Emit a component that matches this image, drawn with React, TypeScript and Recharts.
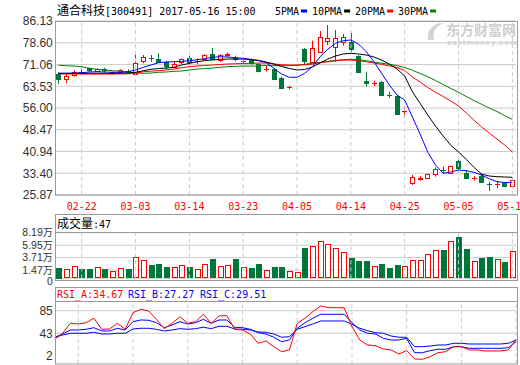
import { ComposedChart, Bar, Line, XAxis, YAxis, CartesianGrid, ReferenceLine } from 'recharts'

const dates = [
  '02-17', '02-20', '02-21', '02-22', '02-23', '02-24', '02-27', '02-28', '03-01', '03-02',
  '03-03', '03-06', '03-07', '03-08', '03-09', '03-10', '03-13', '03-14', '03-15', '03-16',
  '03-17', '03-20', '03-21', '03-22', '03-23', '03-24', '03-27', '03-28', '03-29', '03-30',
  '03-31', '04-05', '04-06', '04-07', '04-10', '04-11', '04-12', '04-13', '04-14', '04-17',
  '04-18', '04-19', '04-20', '04-21', '04-24', '04-25', '04-26', '04-27', '04-28', '05-02',
  '05-03', '05-04', '05-05', '05-08', '05-09', '05-10', '05-11', '05-12', '05-15', '05-16',
]

const open = [
  67.77, 65.94, 67.43, 68.6, 69.75, 68.92, 69.4, 68.0, 68.42, 68.7,
  67.94, 72.17, 73.3, 72.97, 71.93, 70.3, 71.82, 73.42, 72.3, 72.86,
  74.59, 72.62, 74.5, 73.4, 72.3, 72.86, 71.13, 69.4, 69.4, 66.28,
  63.2, null, 76.43, 72.03, 75.5, 79.3, 77.23, 78.75, 78.75, 74.0,
  65.35, 64.5, 65.1, 60.5, 60.15, 54.9, 30.13, 31.5, 31.65, 33.14,
  34.6, 33.59, 37.64, 33.38, 31.6, 32.45, 29.7, 29.6, 29.92, 28.99,
]
const high = [
  68.37, 68.0, 68.98, 69.4, 69.95, 69.8, 69.9, 68.6, 69.4, 69.4,
  74.94, 74.35, 74.35, 74.94, 72.4, 72.27, 73.2, 74.1, 73.2, 74.6,
  76.78, 74.6, 75.2, 74.1, 72.9, 73.1, 71.5, 70.54, 69.6, 66.84,
  63.72, null, 76.78, 79.3, 82.66, 84.74, 83.0, 81.63, 82.07, 74.3,
  68.57, 65.45, 65.3, 61.64, 60.3, 56.52, 32.8, 32.45, 33.2, 35.46,
  35.67, 36.0, 39.13, 34.53, 32.4, 33.38, 30.48, 30.82, 30.3, 31.65,
]
const low = [
  64.4, 64.55, 66.91, 67.88, 68.46, 68.5, 68.3, 67.7, 67.9, 67.9,
  67.43, 71.47, 72.03, 71.82, 69.4, 69.85, 71.23, 71.13, 71.1, 72.6,
  72.62, 71.93, 73.66, 72.2, 71.6, 71.0, 68.37, 68.63, 65.9, 62.82,
  62.47, null, 71.13, 71.47, 75.15, 77.82, 72.03, 77.57, 75.5, 68.22,
  63.37, 63.6, 60.15, 59.56, 53.8, 52.54, 29.33, 30.82, 31.5, 32.21,
  33.14, 33.5, 34.28, 31.41, 30.8, 30.13, 27.36, 28.19, 28.6, 28.19,
]
const close = [
  65.93, 67.08, 68.46, 68.55, 69.05, 69.62, 69.0, 68.3, 69.16, 68.5,
  71.75, 73.56, 73.2, 72.03, 70.54, 71.23, 72.97, 72.03, 72.4, 74.35,
  72.97, 74.25, 74.6, 73.1, 72.4, 71.47, 68.92, 69.6, 66.04, 63.03,
  63.3, null, 72.27, 76.67, 80.48, 80.13, 80.13, 80.48, 76.33, 68.57,
  64.55, 64.6, 60.5, 60.4, 53.92, 55.1, 32.0, 31.7, 33.04, 34.77,
  34.4, 35.91, 35.12, 31.65, 31.8, 30.48, 29.6, 29.8, 28.99, 31.06,
]

const ma5 = [
  68.02, 68.02, 68.12, 68.22, 68.47, 68.57, 68.47, 68.36, 68.36, 68.57,
  69.16, 70.09, 70.89, 71.69, 71.93, 72.03, 72.17, 72.38, 72.73, 73.07,
  73.56, 73.76, 73.66, 73.42, 73.21, 72.86, 72.38, 71.69, 69.75, 67.77,
  66.63, 66.63, 68.02, 70.3, 73.76, 76.33, 78.41, 79.31, 79.55, 78.16,
  75.5, 72.03, 68.02, 63.96, 60.5, 58.77, 52.88, 47.0, 40.76, 36.26,
  33.39, 33.84, 34.53, 34.29, 33.73, 32.8, 31.48, 30.48, 30.2, 30.2,
]
const ma10 = [
  68.0, 68.0, 67.98, 68.0, 68.05, 68.05, 68.02, 68.0, 68.05, 68.12,
  68.36, 68.9, 69.4, 69.65, 69.85, 70.09, 70.9, 71.45, 72.0, 72.4,
  72.65, 72.86, 72.97, 72.97, 72.97, 72.73, 72.52, 71.93, 71.24, 70.37,
  69.68, 69.16, 69.33, 70.2, 71.58, 72.97, 74.01, 74.7, 74.94, 74.7,
  74.35, 73.66, 72.62, 71.24, 69.51, 67.08, 61.64, 57.63, 53.58, 49.77,
  46.3, 43.08, 40.76, 38.23, 35.46, 33.14, 32.45, 32.21, 32.1, 32.0,
]
const ma20 = [
  67.8, 67.78, 67.77, 67.77, 67.75, 67.75, 67.77, 67.77, 67.8, 67.85,
  68.02, 68.57, 68.75, 68.92, 69.2, 69.5, 69.96, 70.3, 70.54, 70.72,
  70.89, 71.06, 71.24, 71.34, 71.41, 71.48, 71.58, 71.58, 71.24, 70.99,
  70.89, 70.89, 70.95, 71.2, 71.69, 72.0, 72.35, 72.55, 72.62, 72.4,
  72.0, 71.6, 71.1, 70.6, 70.0, 68.99, 66.73, 65.0, 63.1, 61.54,
  59.98, 58.42, 56.69, 54.27, 51.84, 49.42, 47.34, 45.26, 43.19, 40.76,
]
const ma30 = [
  70.79, 70.65, 70.54, 70.3, 69.75, 69.4, 69.16, 68.92, 68.71, 68.47,
  68.12, 68.02, 68.12, 68.36, 68.47, 68.71, 68.81, 69.16, 69.51, 69.61,
  69.85, 70.09, 70.3, 70.44, 70.54, 70.54, 70.54, 70.79, 70.65, 70.65,
  70.65, 70.79, 71.13, 71.48, 71.83, 72.17, 72.52, 72.73, 72.86, 72.73,
  72.38, 71.93, 71.48, 71.13, 70.65, 70.02, 69.06, 67.98, 66.84, 65.52,
  64.14, 62.75, 61.47, 59.98, 58.6, 57.28, 56.0, 54.79, 53.4, 52.02,
]

// 成交量, 万
const volume = [
  1.91, 1.62, 2.22, 1.68, 1.68, 1.98, 1.68, 1.32, 1.8, 1.68,
  3.78, 3.3, 2.4, 2.58, 2.04, 2.04, 2.34, 2.04, 1.68, 2.58,
  3.48, 2.22, 2.34, 3.48, 1.98, 1.86, 2.58, 1.5, 2.04, 2.04,
  1.32, 1.14, 5.46, 5.82, 6.72, 6.18, 5.41, 4.74, 3.66, 3.12,
  3.12, 2.16, 2.58, 1.86, 2.4, 2.16, 3.24, 3.24, 4.32, 5.05,
  5.1, 6.72, 7.44, 5.28, 3.12, 3.66, 3.84, 3.42, 2.94, 4.92,
]

const rsiA = [
  31.85, 43.0, 61.6, 60.3, 62.7, 70.9, 50.4, 51.0, 61.6, 50.4,
  81.3, 87.6, 84.5, 69.0, 51.6, 61.6, 73.9, 61.6, 64.6, 78.3,
  61.6, 75.2, 75.7, 50.4, 49.1, 41.7, 24.4, 28.7, 18.1, 8.8,
  12.0, 61.6, 70.9, 83.2, 93.8, 90.6, 90.6, 90.6, 55.3, 30.5,
  21.2, 19.9, 13.8, 12.0, 4.5, 10.7, -4.8, -5.3, -0.5, 6.9,
  8.8, 18.1, 18.1, 12.0, 12.0, 10.1, 10.1, 10.1, 12.0, 31.85,
]
const rsiB = [
  35.6, 41.7, 49.1, 49.1, 50.4, 53.4, 47.3, 47.3, 52.3, 49.1,
  64.6, 67.7, 67.2, 62.7, 53.4, 58.4, 64.6, 60.3, 62.7, 69.0,
  61.6, 67.7, 67.7, 54.2, 53.4, 50.4, 44.1, 41.7, 35.6, 27.4,
  30.5, 52.3, 62.7, 70.9, 78.3, 78.3, 78.3, 78.3, 62.7, 49.1,
  43.0, 41.7, 33.7, 30.5, 30.5, 33.7, 6.9, 6.9, 10.7, 13.3,
  13.3, 18.1, 18.1, 15.1, 15.1, 15.1, 15.1, 15.1, 16.2, 27.4,
]
const rsiC = [
  35.6, 39.8, 43.0, 43.0, 43.0, 44.9, 41.7, 41.7, 43.0, 43.0,
  51.0, 52.3, 52.3, 50.4, 47.3, 49.1, 51.6, 50.4, 51.6, 54.2,
  51.6, 56.0, 56.0, 51.0, 50.4, 49.1, 45.4, 44.9, 41.7, 35.6,
  36.7, 50.4, 55.3, 60.3, 65.9, 65.9, 65.9, 65.9, 59.7, 52.3,
  47.8, 44.1, 43.0, 38.0, 35.6, 35.6, 18.1, 18.1, 19.4, 21.2,
  21.2, 24.4, 24.4, 23.1, 23.1, 23.1, 23.1, 23.1, 24.4, 30.5,
]

const dateTicks = ['02-22', '03-03', '03-14', '03-23', '04-05', '04-14', '04-25', '05-05', '05-16']
const priceTicks = [25.87, 33.4, 40.94, 48.47, 56.0, 63.53, 71.06, 78.6, 86.13]
const volTicks = [0, 1.47, 3.71, 5.95, 8.19]
const rsiTicks = [2, 43, 85]

const RED = '#ff0000'
const GREEN = '#00773a'
const BLUE = '#0000ff'
const GRID = '#cccccc'
const FRAME = '#9a9a9a'
const TEXT = '#333333'
const SANS = "'Liberation Sans', Arial, sans-serif"
const MONO = "'DejaVu Sans Mono', monospace"
const CJK = "'Noto Sans CJK SC', sans-serif"

const W = 520
const AXIS_W = 54.8
const RIGHT = 3.8

const rows = dates.map((d, i) => {
  const has = open[i] != null
  return {
    d,
    open: open[i],
    high: high[i],
    low: low[i],
    close: close[i],
    range: has ? [low[i], high[i]] : null,
    up: !has || (close[i] as number) >= (open[i] as number),
    ma5: ma5[i],
    ma10: ma10[i],
    ma20: ma20[i],
    ma30: ma30[i],
    vol: volume[i],
    rsiA: rsiA[i],
    rsiB: rsiB[i],
    rsiC: rsiC[i],
  }
})

function Candle(p: any) {
  const { x, y, width, height, payload } = p
  if (!payload || payload.open == null) return null
  const { open: o, close: c, high: h, low: l } = payload
  const k = height / (h - l || 1)
  const at = (v: number) => y + (h - v) * k
  const up = c >= o
  const color = up ? RED : GREEN
  const cx = Math.floor(x + width / 2) + 0.5
  const top = Math.round(at(Math.max(o, c))) + 0.5
  const bot = Math.round(at(Math.min(o, c))) + 0.5
  return (
    <g>
      <line x1={cx} x2={cx} y1={y} y2={y + height} stroke={color} />
      {bot - top < 1 ? (
        <line x1={cx - 2.5} x2={cx + 2.5} y1={top} y2={top} stroke={color} />
      ) : (
        <rect x={cx - 2} y={top} width={4} height={bot - top} fill={up ? '#fff' : color} stroke={color} />
      )}
    </g>
  )
}

function VolBar(p: any) {
  const { x, y, width, height, payload } = p
  const cx = Math.floor(x + width / 2) + 0.5
  const top = Math.round(y) + 0.5
  const bot = Math.round(y + height) - 0.5
  if (payload.up) {
    return <rect x={cx - 2} y={top} width={5} height={Math.max(bot - top, 0)} fill="#fff" stroke={RED} />
  }
  return <rect x={cx - 2.5} y={Math.round(y)} width={6} height={Math.round(height)} fill={GREEN} />
}

// volume axis: the bottom "0" sits a little lower than its gridline, as in the source
function VolTick(p: any) {
  const { x, y, payload } = p
  const v = payload.value as number
  return (
    <text x={x} y={y + (v === 0 ? 3 : 0)} dy="0.36em" textAnchor="end" fontSize={10.5} fill={TEXT}>
      <tspan fontFamily={SANS}>{v === 0 ? '0' : v.toFixed(2)}</tspan>
      {v === 0 ? null : <tspan fontFamily={CJK} fontSize={10}>万</tspan>}
    </text>
  )
}

const vLines = (chartKey: string) =>
  dateTicks.map((t) => (
    <ReferenceLine key={chartKey + t} x={t} stroke={GRID} strokeDasharray="4 3" />
  ))

const legend = [
  { label: '5PMA', x: 275, color: BLUE },
  { label: '10PMA', x: 312, color: '#000000' },
  { label: '20PMA', x: 355, color: RED },
  { label: '30PMA', x: 398, color: '#008000' },
]

export default function App() {
  return (
    <div style={{ position: 'absolute', left: 0, top: 0, width: W, height: 365, background: '#fff', overflow: 'hidden' }}>
      {/* watermark */}
      <svg width={W} height={60} style={{ position: 'absolute', left: 0, top: 0 }}>
        <path d="M428 40 C 426 30, 434 22, 444 23 C 436 26, 432 32, 434 40 Z" fill="#d4d4d4" />
        <text x={446} y={35} fontFamily={CJK} fontSize={14} fontWeight="bold" fill="#cfcfcf">东方财富网</text>
        <text x={447} y={45} fontFamily={SANS} fontSize={8} fontWeight="bold" fill="#d2d2d2" textLength={70}>eastmoney.com</text>
      </svg>

      <div style={{ position: 'absolute', left: 0, top: 0 }}>
        <ComposedChart width={W} height={215} data={rows} margin={{ top: 21, right: RIGHT, bottom: 0, left: 0 }}>
          <CartesianGrid vertical={false} stroke={GRID} />
          {vLines('p')}
          <XAxis
            dataKey="d"
            ticks={dateTicks}
            interval={0}
            height={20}
            tickLine={false}
            axisLine={false}
            tickSize={0}
            tickMargin={8}
            tick={{ fontSize: 10, fill: RED, fontFamily: MONO }}
          />
          <YAxis
            domain={[25.87, 86.13]}
            ticks={priceTicks}
            interval={0}
            width={AXIS_W}
            tickLine={false}
            axisLine={false}
            tickSize={0}
            tickMargin={2}
            tick={{ fontSize: 12, fill: TEXT, fontFamily: SANS }}
            tickFormatter={(v: number) => v.toFixed(2)}
          />
          <Bar dataKey="range" barSize={6} shape={(p: any) => <Candle {...p} />} isAnimationActive={false} />
          <Line type="linear" dataKey="ma30" stroke="#008000" strokeWidth={1} dot={false} isAnimationActive={false} />
          <Line type="linear" dataKey="ma20" stroke={RED} strokeWidth={1} dot={false} isAnimationActive={false} />
          <Line type="linear" dataKey="ma10" stroke="#000000" strokeWidth={1} dot={false} isAnimationActive={false} />
          <Line type="linear" dataKey="ma5" stroke={BLUE} strokeWidth={1} dot={false} isAnimationActive={false} />
        </ComposedChart>
      </div>

      <div style={{ position: 'absolute', left: 0, top: 212 }}>
        <ComposedChart width={W} height={76} data={rows} margin={{ top: 20.7, right: RIGHT, bottom: 9.7, left: 0 }}>
          <CartesianGrid vertical={false} stroke={GRID} />
          {vLines('v')}
          <XAxis dataKey="d" hide />
          <YAxis
            domain={[0, 8.19]}
            ticks={volTicks}
            interval={0}
            width={AXIS_W}
            tickLine={false}
            axisLine={false}
            tickSize={0}
            tickMargin={2}
            tick={(p: any) => <VolTick {...p} />}
          />
          <Bar dataKey="vol" barSize={6} shape={(p: any) => <VolBar {...p} />} isAnimationActive={false} />
        </ComposedChart>
      </div>

      <div style={{ position: 'absolute', left: 0, top: 286 }}>
        <ComposedChart width={W} height={79} data={rows} margin={{ top: 15.7, right: RIGHT, bottom: 1, left: 0 }}>
          <ReferenceLine y={85} stroke={GRID} />
          <ReferenceLine y={43} stroke={GRID} />
          {vLines('r')}
          <XAxis dataKey="d" hide />
          <YAxis
            domain={[-14.1, 101.7]}
            ticks={rsiTicks}
            interval={0}
            width={AXIS_W}
            tickLine={false}
            axisLine={false}
            tickSize={0}
            tickMargin={2}
            tick={{ fontSize: 12, fill: TEXT, fontFamily: SANS }}
          />
          <Line type="linear" dataKey="rsiC" stroke={BLUE} strokeWidth={1} dot={false} isAnimationActive={false} />
          <Line type="linear" dataKey="rsiB" stroke={BLUE} strokeWidth={1} dot={false} isAnimationActive={false} />
          <Line type="linear" dataKey="rsiA" stroke={RED} strokeWidth={1} dot={false} isAnimationActive={false} />
        </ComposedChart>
      </div>

      {/* frames, titles, legends */}
      <svg width={W} height={365} style={{ position: 'absolute', left: 0, top: 0, pointerEvents: 'none' }}>
        <text x={57} y={15} fill="#000">
          <tspan fontFamily={CJK} fontSize={12}>通合科技</tspan>
          <tspan fontFamily={MONO} fontSize={10}>[300491] 2017-05-16 15:00</tspan>
        </text>
        {legend.map((it) => (
          <g key={it.label}>
            <text x={it.x} y={15} fontFamily={MONO} fontSize={10} fill="#000">{it.label}</text>
            <rect x={it.x + it.label.length * 6.02 + 2} y={9.5} width={6} height={3} fill={it.color} />
          </g>
        ))}

        <rect x={55.5} y={21.5} width={462} height={173.5} fill="none" stroke={FRAME} />

        <rect x={55.5} y={214.5} width={462} height={66} fill="none" stroke={FRAME} />
        <line x1={55.5} x2={517.5} y1={232.5} y2={232.5} stroke={FRAME} />
        <text x={57} y={228} fill="#000">
          <tspan fontFamily={CJK} fontSize={12}>成交量</tspan>
          <tspan fontFamily={MONO} fontSize={10}>:47</tspan>
        </text>

        <rect x={55.5} y={287.5} width={462} height={76.5} fill="none" stroke={FRAME} />
        <line x1={55.5} x2={517.5} y1={301.5} y2={301.5} stroke={FRAME} />
        <text y={298} fontFamily={MONO} fontSize={10}>
          <tspan x={57} fill={RED}>RSI_A:34.67</tspan>
          <tspan x={128} fill={BLUE}>RSI_B:27.27</tspan>
          <tspan x={200} fill={BLUE}>RSI_C:29.51</tspan>
        </text>
      </svg>
    </div>
  )
}
